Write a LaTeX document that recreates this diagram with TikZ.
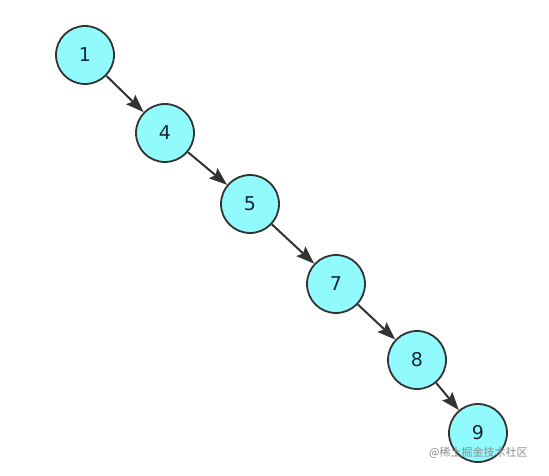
\documentclass[tikz,border=0pt]{standalone}
\usepackage{fontspec}
\setmainfont{DejaVu Sans}
\newfontfamily\cjk{Noto Sans CJK SC}
\usetikzlibrary{arrows.meta}
\definecolor{nodefill}{RGB}{144,250,252}
\definecolor{edgecol}{RGB}{51,51,51}
\definecolor{textcol}{RGB}{20,40,50}
\tikzset{
  treenode/.style={circle, draw=edgecol, fill=nodefill, line width=1.8pt, minimum size=58pt, inner sep=0pt, font=\fontsize{19}{22}\selectfont, text=textcol},
  edge/.style={draw=edgecol, line width=2pt, -{Stealth[length=18pt,width=13pt,inset=3pt]}},
}
\begin{document}
\begin{tikzpicture}[x=1pt,y=-1pt]
\useasboundingbox (0,0) rectangle (549,476);
\node[treenode] (n1) at (85,55) {1};
\node[treenode] (n4) at (165,133) {4};
\node[treenode] (n5) at (250,204) {5};
\node[treenode] (n7) at (336,284) {7};
\node[treenode] (n8) at (417,360) {8};
\node[treenode] (n9) at (478,433) {9};
\draw[edge] (n1) -- (n4);
\draw[edge] (n4) -- (n5);
\draw[edge] (n5) -- (n7);
\draw[edge] (n7) -- (n8);
\draw[edge] (n8) -- (n9);
\node[anchor=west, text=black!45, font=\cjk\fontsize{11}{13}\selectfont, inner sep=0pt] (wm) at (429,453) {@稀土掘金技术社区};
\end{tikzpicture}
\end{document}
